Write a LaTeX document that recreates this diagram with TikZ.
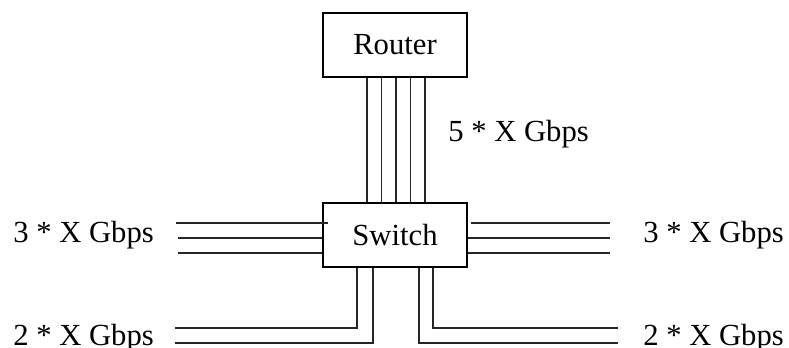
\documentclass[tikz,border=0pt]{standalone}
\usepackage{fontspec}
\setmainfont{Liberation Serif}
\begin{document}
\begin{tikzpicture}[x=0.75pt,y=-0.75pt,
  box/.style={draw, line width=0.9pt, minimum width=108pt, minimum height=48pt, inner sep=0pt,
              font=\fontsize{23}{27}\selectfont},
  lbl/.style={font=\fontsize{23}{27}\selectfont, inner sep=0pt},
  wire/.style={line width=0.9pt, draw=black!85}]
\useasboundingbox (0,0) rectangle (789,348);
\clip (0,0) rectangle (789,348);

% the two boxes
\node[box] (router) at (395,45) {Router};
\node[box] (switch) at (395,235) {Switch};

% uplink bundle: five links between router and switch
\foreach \x in {367,381.5,396,410.5,425}
  \draw[wire] (router.south -| \x,0) -- (switch.north -| \x,0);

% left bundle of three links
\draw[wire] (176,223) -- ([xshift=4pt]switch.west |- 0,223);
\foreach \y in {238,253}
  \draw[wire] (178,\y) -- (switch.west |- 0,\y);

% right bundle of three links
\draw[wire] ([xshift=2.5pt]switch.east |- 0,223) -- (610,223);
\foreach \y in {238,253}
  \draw[wire] (switch.east |- 0,\y) -- (610,\y);

% lower left pair
\draw[wire] (switch.south -| 357,0) |- (175,328);
\draw[wire] (switch.south -| 373,0) |- (175,343);

% lower right pair
\draw[wire] (switch.south -| 433,0) |- (618,328);
\draw[wire] (switch.south -| 419,0) |- (618,343);

% link capacities
\node[lbl, anchor=base west] (up)  at (448,142) {5 * X Gbps};
\node[lbl, anchor=base west] (l3)  at (13,243)  {3 * X Gbps};
\node[lbl, anchor=base west] (r3)  at (643,243) {3 * X Gbps};
\node[lbl, anchor=base west] (l2)  at (13,346)  {2 * X Gbps};
\node[lbl, anchor=base west] (r2)  at (643,346) {2 * X Gbps};
\end{tikzpicture}
\end{document}
